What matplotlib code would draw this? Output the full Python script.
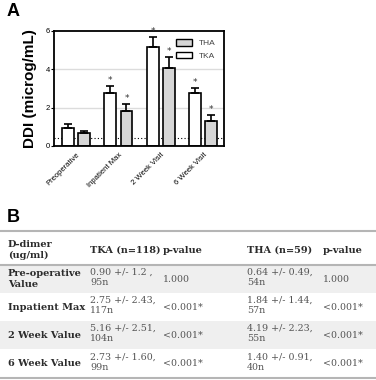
import matplotlib
matplotlib.use("Agg")
import matplotlib.pyplot as plt
import numpy as np
from matplotlib.patches import Patch, Rectangle
from matplotlib.lines import Line2D

# ---- Chart data (panel A) ----
categories = ["Preoperative", "Inpatient Max", "2 Week Visit", "6 Week Visit"]
tka_means = [0.92, 2.77, 5.17, 2.74]
tka_err = [0.23, 0.37, 0.49, 0.30]
tha_means = [0.66, 1.84, 4.05, 1.32]
tha_err = [0.14, 0.35, 0.57, 0.29]
tka_sig = [False, True, True, True]
tha_sig = [False, True, True, True]
threshold = 0.40
yticks = [0, 2, 4, 6]

# ---- Table data (panel B) ----
col_headers = ["D-dimer\n(ug/ml)", "TKA (n=118)", "p-value", "THA (n=59)", "p-value"]
row_labels = ["Pre-operative\nValue", "Inpatient Max", "2 Week Value", "6 Week Value"]
tka_vals = ["0.90 +/- 1.2 ,\n95n", "2.75 +/- 2.43,\n117n", "5.16 +/- 2.51,\n104n", "2.73 +/- 1.60,\n99n"]
tka_p = ["1.000", "<0.001*", "<0.001*", "<0.001*"]
tha_vals = ["0.64 +/- 0.49,\n54n", "1.84 +/- 1.44,\n57n", "4.19 +/- 2.23,\n55n", "1.40 +/- 0.91,\n40n"]
tha_p = ["1.000", "<0.001*", "<0.001*", "<0.001*"]

W, H = 376, 380
fig = plt.figure(figsize=(W / 100, H / 100), dpi=100)

def fx(px):
    return px / W

def fy(py):
    return 1 - py / H

# ---------- Panel A ----------
ax = fig.add_axes([fx(54), fy(146), fx(224) - fx(54), fy(30.7) - fy(146)])
x = np.arange(len(categories))
off = 0.19
bw = 0.28
gray = "#d6d6d6"
ax.set_axisbelow(True)
for yv in [2, 4]:
    ax.axhline(yv, color="#dcdcdc", lw=1.0, zorder=0)
ax.bar(x - off, tka_means, bw, color="white", edgecolor="black", lw=1.2, zorder=2)
ax.bar(x + off, tha_means, bw, color=gray, edgecolor="black", lw=1.2, zorder=2)
ax.errorbar(x - off, tka_means, yerr=[np.zeros(len(x)), tka_err], fmt="none",
            ecolor="black", elinewidth=1.2, capsize=3, capthick=1.2, zorder=3)
ax.errorbar(x + off, tha_means, yerr=[np.zeros(len(x)), tha_err], fmt="none",
            ecolor="black", elinewidth=1.2, capsize=3, capthick=1.2, zorder=3)
for i in range(len(x)):
    if tka_sig[i]:
        ax.text(x[i] - off, tka_means[i] + tka_err[i] + 0.04, "*", ha="center", va="bottom",
                fontsize=6.5, color="#333333")
    if tha_sig[i]:
        ax.text(x[i] + off, tha_means[i] + tha_err[i] + 0.04, "*", ha="center", va="bottom",
                fontsize=6.5, color="#333333")
ax.axhline(threshold, color="black", lw=0.8, ls=(0, (1, 2)), zorder=1)
ax.set_xlim(-0.52, 3.49)
ax.set_ylim(0, 6)
ax.set_yticks(yticks)
ax.set_yticklabels([str(v) for v in yticks], fontsize=5.5, family="Liberation Sans")
ax.tick_params(axis="y", length=2, width=0.8, pad=1)
ax.set_xticks(x)
ax.set_xticklabels(categories, rotation=45, ha="right", rotation_mode="anchor",
                   fontsize=5.5, family="Liberation Sans")
ax.tick_params(axis="x", length=0, pad=4)
for s in ax.spines.values():
    s.set_linewidth(1.3)
ax.set_ylabel("DDI (microg/mL)", fontsize=11, fontweight="bold", family="Liberation Sans",
              labelpad=6)
handles = [Patch(facecolor=gray, edgecolor="black", lw=1.0, label="THA"),
           Patch(facecolor="white", edgecolor="black", lw=1.0, label="TKA")]
leg = ax.legend(handles=handles, loc="upper right", frameon=False,
                prop={"family": "Liberation Sans", "size": 6},
                handlelength=2.0, handleheight=0.9, borderaxespad=0.6, labelspacing=0.5)
for t in leg.get_texts():
    t.set_color("#444444")

fig.text(fx(7), fy(12), "A", fontsize=13, fontweight="bold", family="Liberation Sans",
         va="center", ha="left")

# ---------- Panel B ----------
fig.text(fx(7), fy(218), "B", fontsize=13, fontweight="bold", family="Liberation Sans",
         va="center", ha="left")

row_bounds = [(265, 293), (293, 321), (321, 349), (349, 378)]
shade = [True, False, True, False]
for (t, b), sh in zip(row_bounds, shade):
    if sh:
        fig.patches.append(Rectangle((0, fy(b)), 1, fy(t) - fy(b), transform=fig.transFigure,
                                     facecolor="#efefef", edgecolor="none", zorder=0))
for yl in [231, 265, 378]:
    fig.add_artist(Line2D([0, 1], [fy(yl), fy(yl)], transform=fig.transFigure,
                          color="#b5b5b5", lw=1.5))

col_x = [8, 90, 163, 247, 323]
serif = "DejaVu Serif"
bold_c = "#2b2b2b"
reg_c = "#555555"
# header
fig.text(fx(col_x[0]), fy(250), col_headers[0], fontsize=7, fontweight="bold", family=serif,
         color=bold_c, va="center", ha="left", linespacing=1.3)
for j in range(1, 5):
    fig.text(fx(col_x[j]), fy(250), col_headers[j], fontsize=7, fontweight="bold", family=serif,
             color=bold_c, va="center", ha="left")
for i, (t, b) in enumerate(row_bounds):
    yc = (t + b) / 2
    fig.text(fx(col_x[0]), fy(yc), row_labels[i], fontsize=7, fontweight="bold", family=serif,
             color=bold_c, va="center", ha="left", linespacing=1.3)
    fig.text(fx(col_x[1]), fy(yc - 1.5), tka_vals[i], fontsize=6.8, family=serif,
             color=reg_c, va="center", ha="left", linespacing=1.2)
    fig.text(fx(col_x[2]), fy(yc), tka_p[i], fontsize=6.8, family=serif,
             color=reg_c, va="center", ha="left")
    fig.text(fx(col_x[3]), fy(yc - 1.5), tha_vals[i], fontsize=6.8, family=serif,
             color=reg_c, va="center", ha="left", linespacing=1.2)
    fig.text(fx(col_x[4]), fy(yc), tha_p[i], fontsize=6.8, family=serif,
             color=reg_c, va="center", ha="left")

fig.savefig("out.png", dpi=100)
